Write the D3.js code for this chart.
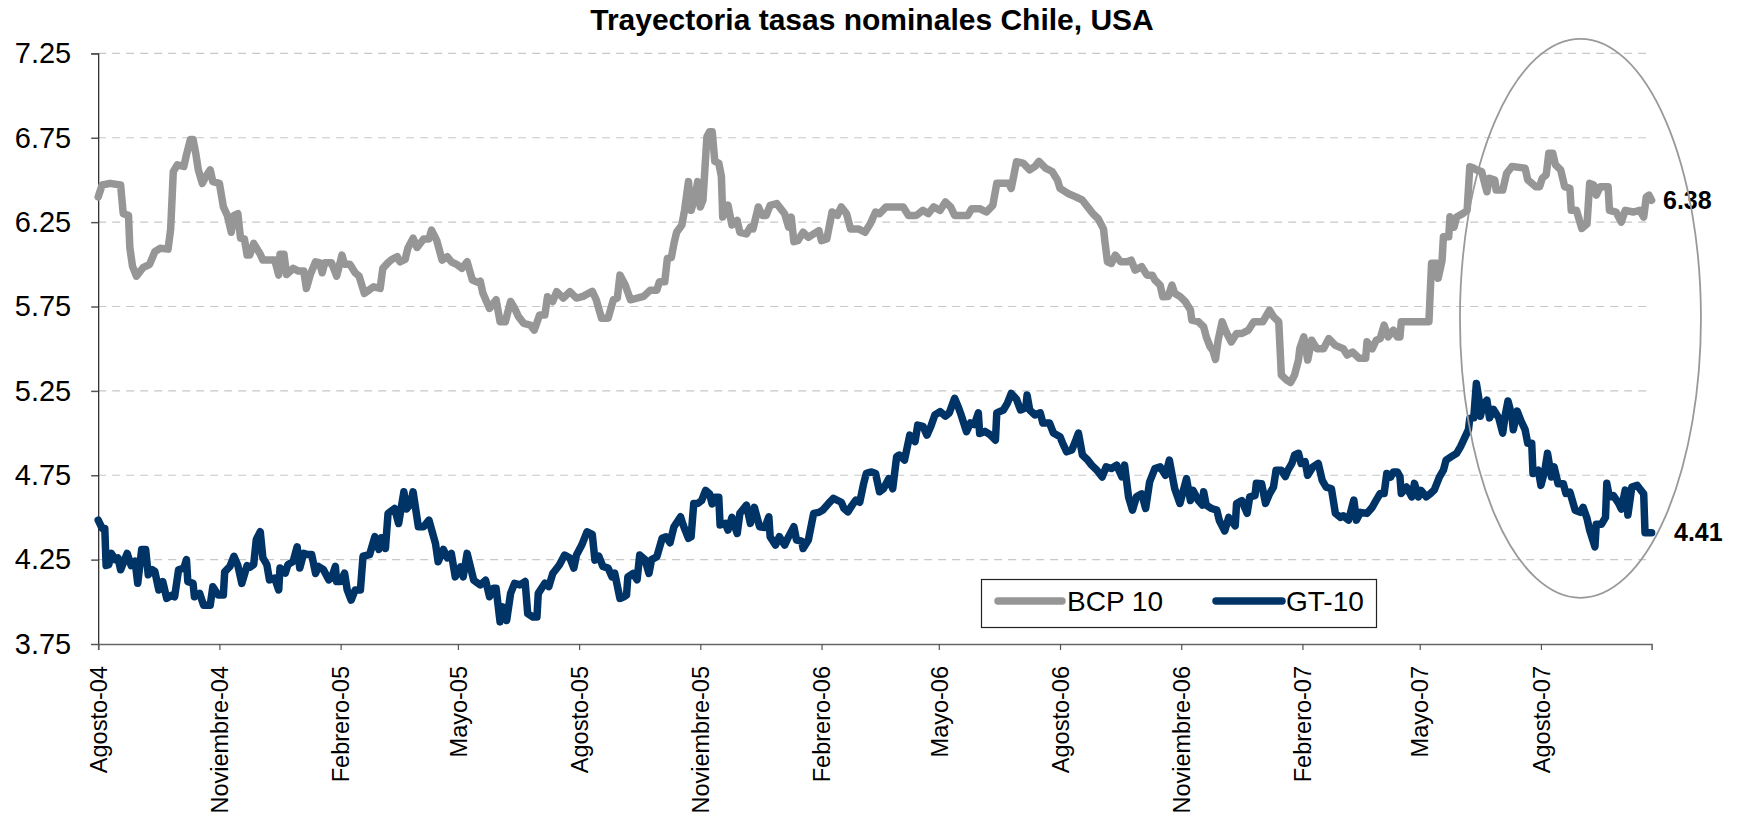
<!DOCTYPE html>
<html><head><meta charset="utf-8">
<script src="https://cdn.jsdelivr.net/npm/d3@7"></script>
<style>body{margin:0;background:#fff}svg{display:block}text{font-family:"Liberation Sans",Arial,sans-serif}</style>
</head><body>
<svg id="chart" width="1744" height="817"></svg>
<script>
// ---- data (day offsets from 1 Aug 2004, value in %) ----
const startDate = new Date(2004, 7, 1);
const lastDay = 1179;
const seriesNames = ["BCP 10", "GT-10"];
const seriesColors = ["#969696", "#003366"];
const endLabels = ["6.38", "4.41"];
const yTicks = [3.75, 4.25, 4.75, 5.25, 5.75, 6.25, 6.75, 7.25];
const xTickLabels = ["Agosto-04","Noviembre-04","Febrero-05","Mayo-05","Agosto-05","Noviembre-05","Febrero-06","Mayo-06","Agosto-06","Noviembre-06","Febrero-07","Mayo-07","Agosto-07"];
const title = "Trayectoria tasas nominales Chile, USA";

const bcp10 = [[0,6.40],[3,6.47],[9,6.48],[17,6.47],[19,6.30],[23,6.29],[24,6.10],[26,5.99],[29,5.93],[34,5.98],[39,6.00],[43,6.075],[47,6.095],[53,6.09],[55,6.21],[57,6.55],[60,6.59],[65,6.58],[67,6.65],[70,6.74],[72,6.74],[74,6.66],[76,6.56],[79,6.48],[81,6.51],[85,6.56],[87,6.49],[92,6.48],[95,6.34],[98,6.29],[101,6.19],[103,6.29],[106,6.30],[108,6.155],[111,6.15],[113,6.055],[115,6.055],[118,6.124],[123,6.06],[125,6.025],[130,6.025],[134,6.025],[137,5.936],[138,6.06],[141,6.06],[143,5.94],[148,5.976],[152,5.96],[156,5.96],[158,5.857],[161,5.94],[165,6.015],[168,6.01],[170,5.95],[172,6.01],[177,6.01],[181,5.93],[185,6.055],[187,6.00],[191,6.00],[195,5.95],[198,5.93],[202,5.828],[206,5.85],[209,5.867],[214,5.857],[216,5.976],[220,6.01],[223,6.03],[227,6.045],[229,6.015],[233,6.03],[235,6.095],[239,6.155],[242,6.10],[247,6.15],[251,6.15],[253,6.203],[257,6.14],[261,6.025],[265,6.045],[268,6.015],[272,6.0],[276,5.976],[280,6.015],[284,5.907],[289,5.89],
[290,5.90],[292,5.828],[297,5.739],[302,5.79],[305,5.66],[309,5.66],[313,5.78],[316,5.74],[319,5.69],[323,5.65],[328,5.64],[331,5.61],[335,5.70],[339,5.70],[341,5.808],[345,5.78],[348,5.838],[353,5.80],[358,5.838],[363,5.80],[368,5.81],[375,5.84],[378,5.79],[382,5.68],[387,5.68],[391,5.79],[394,5.80],[396,5.936],[400,5.877],[404,5.79],[409,5.80],[414,5.81],[419,5.847],[424,5.847],[426,5.897],[430,5.897],[432,6.035],[435,6.04],[437,6.124],[439,6.19],[443,6.233],[445,6.32],[448,6.49],[450,6.32],[453,6.40],[455,6.49],[457,6.34],[459,6.38],[462,6.756],[464,6.786],[466,6.786],[468,6.61],[471,6.60],[473,6.52],[474,6.28],[478,6.35],[481,6.233],[485,6.26],[487,6.19],[492,6.18],[495,6.22],[497,6.21],[501,6.34],[504,6.29],[507,6.29],[510,6.35],[515,6.36],[519,6.32],[521,6.30],[524,6.22],[526,6.28],[528,6.134],[531,6.14],[535,6.19],[539,6.16],[543,6.18],[547,6.20],[549,6.14],[553,6.15],[557,6.31],[561,6.29],[564,6.34],[568,6.30],[571,6.21],[577,6.21],
[582,6.19],[586,6.24],[590,6.31],[593,6.30],[598,6.34],[605,6.34],[611,6.34],[615,6.29],[621,6.29],[626,6.32],[630,6.30],[634,6.34],[639,6.32],[643,6.37],[647,6.34],[650,6.29],[657,6.29],[660,6.29],[663,6.33],[669,6.33],[674,6.31],[679,6.35],[682,6.48],[687,6.48],[691,6.48],[693,6.45],[697,6.608],[702,6.60],[707,6.56],[711,6.58],[714,6.61],[719,6.57],[724,6.55],[728,6.50],[730,6.45],[736,6.42],[742,6.40],[747,6.38],[752,6.33],[755,6.30],[759,6.27],[763,6.21],[764,6.14],[766,6.015],[769,6.005],[772,6.055],[776,6.015],[781,6.015],[784,6.025],[787,5.966],[792,5.986],[796,5.936],[800,5.936],[802,5.907],[806,5.877],[808,5.808],[812,5.81],[815,5.877],[817,5.828],[821,5.81],[825,5.78],[829,5.729],[830,5.67],[835,5.66],[839,5.63],[841,5.57],[844,5.51],[846,5.49],[848,5.437],[850,5.55],[853,5.66],[856,5.60],[860,5.54],[864,5.59],[868,5.59],[873,5.61],[877,5.66],[884,5.66],[889,5.729],[892,5.69],[896,5.66],[898,5.344],[902,5.314],[905,5.30],[908,5.344],[911,5.433],[912,5.502],[915,5.57],[918,5.433],[921,5.55],[925,5.50],[930,5.50],[934,5.56],[939,5.52],[945,5.50],[948,5.462],[952,5.48],[957,5.443],[962,5.443],[963,5.541],[967,5.50],[970,5.55],[973,5.56],[976,5.64],[979,5.57],[983,5.61],[986,5.57],[988,5.57],[989,5.66],[998,5.66],[1010,5.66],[1011,5.837],[1012,6.006],[1016,6.006],[1017,5.917],[1020,6.025],[1021,6.164],[1025,6.164],[1026,6.282],[1029,6.22],[1031,6.28],[1036,6.302],[1039,6.32],[1041,6.578],[1044,6.57],[1046,6.56],[1050,6.55],[1054,6.43],[1056,6.51],[1060,6.50],[1061,6.44],[1066,6.44],[1069,6.54],[1073,6.58],[1083,6.57],[1085,6.50],[1091,6.46],[1094,6.46],[1096,6.51],[1099,6.53],[1101,6.658],[1104,6.658],[1106,6.59],[1110,6.56],[1113,6.46],[1117,6.45],[1118,6.32],[1122,6.32],[1126,6.213],[1130,6.24],[1132,6.48],[1135,6.47],[1137,6.41],[1140,6.46],[1146,6.46],[1147,6.32],[1152,6.31],[1156,6.25],[1159,6.32],[1165,6.31],[1170,6.32],[1173,6.28],[1175,6.40],[1177,6.41],[1179,6.38]];

const gt10 = [[0,4.484],[3,4.435],[5,4.435],[6,4.215],[8,4.22],[10,4.287],[13,4.25],[15,4.26],[17,4.19],[22,4.287],[25,4.215],[28,4.24],[30,4.11],[33,4.31],[36,4.31],[38,4.16],[41,4.19],[43,4.18],[46,4.07],[49,4.12],[52,4.02],[56,4.04],[58,4.03],[61,4.19],[65,4.20],[67,4.25],[68,4.12],[72,4.11],[73,4.03],[77,4.05],[80,3.98],[85,3.98],[87,4.089],[91,4.04],[95,4.04],[96,4.178],[100,4.21],[103,4.27],[106,4.215],[109,4.109],[113,4.215],[115,4.205],[118,4.22],[120,4.37],[123,4.415],[125,4.26],[128,4.22],[130,4.13],[134,4.14],[137,4.07],[138,4.20],[142,4.17],[144,4.22],[148,4.24],[151,4.326],[153,4.20],[156,4.287],[159,4.28],[162,4.28],[165,4.168],[167,4.21],[171,4.19],[175,4.13],[177,4.14],[180,4.21],[181,4.12],[184,4.12],[187,4.17],[189,4.07],[192,4.01],[195,4.07],[199,4.07],[201,4.27],[206,4.28],[210,4.386],[213,4.31],[215,4.38],[218,4.316],[220,4.524],[225,4.553],[228,4.464],[232,4.652],[234,4.55],[237,4.58],[239,4.652],[243,4.445],[247,4.445],[251,4.484],[256,4.346],[258,4.237],[262,4.31],[265,4.26],[268,4.287],[271,4.148],[275,4.207],[277,4.148],[280,4.287],[285,4.128],[290,4.10],[294,4.128],[297,4.03],[300,4.08],[302,4.08],[305,3.881],[307,3.97],[310,3.89],[313,4.05],[316,4.109],[320,4.10],[324,4.12],[326,3.93],[330,3.91],[333,3.91],[334,4.05],[339,4.11],[342,4.09],[345,4.168],[350,4.218],[354,4.277],[358,4.26],[361,4.20],[363,4.277],[367,4.336],[371,4.415],[375,4.40],[377,4.247],[380,4.27],[383,4.21],[387,4.20],[390,4.148],[392,4.17],[396,4.02],[399,4.03],[401,4.04],[402,4.148],[406,4.168],[409,4.13],[411,4.277],[415,4.25],[418,4.168],[420,4.25],[424,4.267],[428,4.376],[431,4.385],[434,4.35],[437,4.445],[442,4.504],[444,4.455],[448,4.376],[450,4.385],[452,4.583],[455,4.583],[458,4.60],[461,4.66],[464,4.64],[466,4.58],[468,4.62],[471,4.62],[472,4.455],[476,4.465],[478,4.425],[481,4.50],[485,4.405],[487,4.524],[492,4.573],[495,4.465],[498,4.56],[502,4.445],[506,4.44],[509,4.504],[510,4.386],[514,4.336],[517,4.386],[521,4.336],[524,4.386],[528,4.445],[530,4.366],[534,4.36],[535,4.316],[539,4.366],[543,4.524],[547,4.53],[550,4.544],[554,4.58],[558,4.613],[564,4.59],[566,4.553],[569,4.533],[572,4.57],[575,4.603],[578,4.59],[581,4.702],[583,4.761],[587,4.77],[590,4.761],[593,4.652],[596,4.67],[600,4.73],[603,4.67],[606,4.86],[608,4.87],[612,4.84],[616,4.988],[620,4.95],[622,5.047],[626,5.04],[629,4.988],[632,5.04],[635,5.107],[639,5.127],[643,5.10],[646,5.12],[650,5.206],[653,5.15],[655,5.107],[659,5.008],[662,5.06],[665,5.05],[668,5.12],[669,4.998],[673,5.01],[677,4.99],[681,4.958],[682,5.12],[687,5.137],[690,5.176],[693,5.235],[697,5.20],[700,5.137],[704,5.15],[705,5.225],[707,5.137],[711,5.107],[715,5.12],[717,5.06],[722,5.06],[725,5.0],[730,4.978],[732,4.94],[735,4.889],[739,4.90],[742,4.958],[744,5.0],[747,4.87],[751,4.84],[754,4.81],[758,4.78],[762,4.74],[765,4.80],[769,4.79],[773,4.81],[777,4.74],[779,4.81],[782,4.622],[785,4.543],[788,4.622],[792,4.64],[795,4.553],[798,4.71],[802,4.79],[806,4.80],[810,4.75],[813,4.84],[817,4.672],[821,4.583],[826,4.73],[829,4.60],[831,4.66],[835,4.60],[838,4.573],[839,4.652],[841,4.573],[845,4.553],[849,4.543],[851,4.48],[855,4.42],[858,4.50],[863,4.45],[864,4.583],[868,4.60],[872,4.524],[874,4.622],[878,4.63],[879,4.702],[883,4.70],[886,4.583],[889,4.64],[892,4.68],[894,4.78],[898,4.78],[901,4.742],[903,4.78],[906,4.82],[908,4.87],[911,4.88],[913,4.82],[916,4.83],[918,4.75],[922,4.80],[926,4.82],[929,4.72],[932,4.68],[936,4.67],[939,4.524],[943,4.50],[945,4.51],[949,4.484],[953,4.603],[955,4.484],[958,4.53],[963,4.524],[967,4.56],[970,4.603],[973,4.642],[976,4.642],[978,4.761],[981,4.74],[983,4.77],[986,4.77],[988,4.742],[989,4.642],[993,4.68],[997,4.622],[999,4.702],[1002,4.622],[1004,4.66],[1008,4.622],[1011,4.64],[1014,4.662],[1018,4.74],[1021,4.78],[1023,4.84],[1027,4.86],[1031,4.88],[1034,4.92],[1037,4.97],[1040,5.02],[1041,5.087],[1044,5.09],[1046,5.294],[1048,5.20],[1049,5.10],[1051,5.16],[1054,5.195],[1056,5.09],[1059,5.14],[1063,5.09],[1066,5.0],[1068,5.11],[1070,5.19],[1073,5.10],[1074,5.02],[1077,5.13],[1080,5.07],[1083,5.02],[1085,4.94],[1088,4.94],[1089,4.76],[1093,4.78],[1095,4.69],[1098,4.78],[1100,4.88],[1103,4.74],[1105,4.80],[1108,4.70],[1112,4.70],[1114,4.642],[1117,4.65],[1121,4.543],[1125,4.53],[1127,4.56],[1130,4.494],[1132,4.425],[1136,4.326],[1137,4.46],[1141,4.46],[1144,4.50],[1145,4.702],[1147,4.622],[1150,4.63],[1154,4.583],[1156,4.55],[1159,4.662],[1161,4.514],[1164,4.68],[1168,4.69],[1170,4.67],[1173,4.64],[1174,4.41],[1179,4.41]];

// ---- layout ----
const svg = d3.select("#chart");
const plot = {left: 98.2, right: 1651.6, top: 53.4, bottom: 644};
const toDate = d => d3.timeDay.offset(startDate, d);
const x = d3.scaleTime().domain([startDate, toDate(lastDay)]).range([plot.left, plot.right]);
const y = d3.scaleLinear().domain([3.75, 7.25]).range([plot.bottom, plot.top]);

// title
svg.append("text").attr("x", 872).attr("y", 30).attr("text-anchor", "middle")
  .attr("font-size", 30).attr("font-weight", "bold").attr("fill", "#000").text(title);

// gridlines
svg.append("g").selectAll("line").data(yTicks.slice(1)).join("line")
  .attr("x1", plot.left).attr("x2", plot.right)
  .attr("y1", d => y(d)).attr("y2", d => y(d))
  .attr("stroke", "#c8c8c8").attr("stroke-width", 1.2).attr("stroke-dasharray", "8,6");

// y axis
const yAxis = svg.append("g").attr("transform", `translate(${plot.left},0)`)
  .call(d3.axisLeft(y).tickValues(yTicks).tickFormat(d3.format(".2f")).tickSize(7).tickPadding(20));
yAxis.select(".domain").attr("stroke", "#222").attr("stroke-width", 1.2);
yAxis.selectAll(".tick line").attr("stroke", "#555").attr("stroke-width", 1.5);
yAxis.selectAll("text").attr("font-size", 29).attr("fill", "#000").attr("font-family", '"Liberation Sans",Arial,sans-serif');

// x axis
const xTickDates = d3.range(xTickLabels.length).map(i => d3.timeMonth.offset(startDate, 3 * i));
const xAxis = svg.append("g").attr("transform", `translate(0,${plot.bottom})`)
  .call(d3.axisBottom(x).tickValues(xTickDates).tickFormat((d, i) => xTickLabels[i]).tickSize(6));
xAxis.select(".domain").attr("stroke", "#666").attr("stroke-width", 1.6);
xAxis.selectAll(".tick line").attr("stroke", "#555").attr("stroke-width", 1.2);
xAxis.selectAll("text").attr("font-size", 23.5).attr("fill", "#000")
  .attr("font-family", '"Liberation Sans",Arial,sans-serif')
  .attr("transform", "rotate(-90)").attr("text-anchor", "end")
  .attr("x", -22).attr("y", 0).attr("dy", "0.35em");

// lines
const line = d3.line().x(d => x(toDate(d[0]))).y(d => y(d[1])).curve(d3.curveLinear);
[bcp10, gt10].forEach((s, i) => {
  svg.append("path").datum(s).attr("d", line).attr("fill", "none")
    .attr("stroke", seriesColors[i]).attr("stroke-width", 7.5)
    .attr("stroke-linejoin", "round").attr("stroke-linecap", "round");
});

// end labels
const endX = [1663, 1674];
[bcp10, gt10].forEach((s, i) => {
  svg.append("text").attr("x", endX[i]).attr("y", y(s[s.length - 1][1])).attr("dy", "0.35em")
    .attr("font-size", 25).attr("font-weight", "bold").attr("fill", "#000").text(endLabels[i]);
});

// ellipse annotation
svg.append("ellipse").attr("cx", x(toDate(1125))).attr("cy", y(5.68)).attr("rx", 120.5).attr("ry", 279.5)
  .attr("fill", "none").attr("stroke", "#999").attr("stroke-width", 1.8);

// legend
const lg = svg.append("g");
lg.append("rect").attr("x", 981.5).attr("y", 579.5).attr("width", 395).attr("height", 48)
  .attr("fill", "#fff").attr("stroke", "#222").attr("stroke-width", 1.2);
const lgItems = [{x1: 998, x2: 1062, tx: 1067}, {x1: 1216, x2: 1282, tx: 1286}];
lgItems.forEach((it, i) => {
  lg.append("line").attr("x1", it.x1).attr("x2", it.x2).attr("y1", 601).attr("y2", 601)
    .attr("stroke", seriesColors[i]).attr("stroke-width", 7.5).attr("stroke-linecap", "round");
  lg.append("text").attr("x", it.tx).attr("y", 601).attr("dy", "0.35em")
    .attr("font-size", 28).attr("fill", "#000").text(seriesNames[i]);
});
</script>
</body></html>
